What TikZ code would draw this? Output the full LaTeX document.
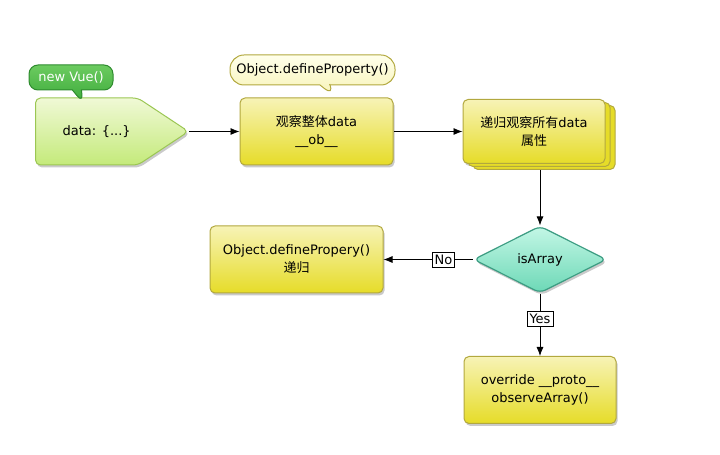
\documentclass[tikz,border=0pt]{standalone}
\usepackage{fontspec}
\setmainfont{DejaVu Sans}
\newfontfamily\cjk{Noto Sans CJK SC}
\usetikzlibrary{positioning,shapes.geometric,shapes.symbols,shapes.callouts,shadows,arrows.meta}

\definecolor{yellowtop}{HTML}{F7F3B6}
\definecolor{yellowbot}{HTML}{E6DC28}
\definecolor{yellowline}{HTML}{B2A83E}
\definecolor{greentop}{HTML}{F0F9D6}
\definecolor{greenbot}{HTML}{C4EA7A}
\definecolor{greenline}{HTML}{9BC653}
\definecolor{vuetop}{HTML}{6CCB60}
\definecolor{vuebot}{HTML}{3CAA3A}
\definecolor{vueline}{HTML}{2E8B2E}
\definecolor{tealtop}{HTML}{C4F7E6}
\definecolor{tealbot}{HTML}{6CD8B6}
\definecolor{tealline}{HTML}{3C9C82}

\tikzset{
  boxshadow/.style={drop shadow={shadow xshift=1.5pt,shadow yshift=-2.5pt,opacity=.35,fill=black!60}},
  yellowbox/.style={draw=yellowline,line width=1pt,top color=yellowtop,bottom color=yellowbot,
    rounded corners=5pt,minimum width=153pt,minimum height=67pt,align=center,
    font=\fontsize{13}{18}\selectfont,boxshadow},
  stackbox/.style={yellowbox,minimum width=142pt,minimum height=64pt,
    double copy shadow={shadow xshift=5pt,shadow yshift=-3pt,fill=yellowbot,draw=yellowline,line width=1pt}},
  databox/.style={signal,signal to=east,signal pointer angle=67,draw=greenline,line width=1pt,
    top color=greentop,bottom color=greenbot,rounded corners=5pt,minimum width=153pt,
    minimum height=67pt,font=\fontsize{13}{15}\selectfont,boxshadow},
  decision/.style={diamond,aspect=2,draw=tealline,line width=1.2pt,top color=tealtop,bottom color=tealbot,
    rounded corners=6pt,minimum width=133pt,minimum height=67pt,inner sep=0pt,
    font=\fontsize{13}{15}\selectfont,boxshadow},
  lbl/.style={draw,fill=white,line width=0.6pt,inner sep=2.5pt,font=\fontsize{13}{15}\selectfont},
}

\begin{document}
\begin{tikzpicture}[x=1pt,y=1pt,on grid,>={Latex[length=9pt,width=7pt]},line width=0.8pt]
\useasboundingbox (0,0) rectangle (720,455);

\node[databox,anchor=west] (data) at (35,323.5) {\hspace*{20pt}data: \{...\}};
\node[yellowbox] (observe) at (316.5,323.5) {{\cjk 观察整体}data\\\_\_ob\_\_};
\node[stackbox] (walk) [right=217.5pt of observe] {{\cjk 递归观察所有}data\\{\cjk 属性}};
\node[decision] (isarray) [below right=128pt and 6pt of walk] {isArray};
\node[yellowbox,minimum width=173pt] (recur) [left=243.5pt of isarray] {Object.definePropery()\\{\cjk 递归}};
\node[yellowbox,minimum width=152pt] (override) [below=130.5pt of isarray] {override \_\_proto\_\_\\observeArray()};

% callouts
\node[rectangle callout,callout absolute pointer={(83,352)},callout pointer width=9pt,
  draw=vueline,line width=1pt,top color=vuetop,bottom color=vuebot,rounded corners=9pt,
  minimum width=84pt,minimum height=25pt,inner xsep=3pt,text=white,font=\fontsize{13}{15}\selectfont]
  (newvue) at (71,377.5) {new Vue()};
\node[rectangle callout,callout absolute pointer={(335,358)},callout pointer width=10pt,
  draw=yellowline,line width=1pt,top color=yellow!8,bottom color=yellowtop,rounded corners=14pt,
  minimum width=165pt,minimum height=30pt,inner xsep=3pt,font=\fontsize{13}{15}\selectfont]
  (defprop) at (312.5,385) {Object.defineProperty()};

\path[->]
(data.east) edge (observe)
(observe) edge (walk)
([yshift=-6pt]isarray.north |- walk.south) edge (isarray.north)
(isarray.west) edge node[lbl,pos=.33] {No} (recur)
(isarray.south) edge node[lbl,pos=.4] {Yes} (override)
;
\end{tikzpicture}
\end{document}
